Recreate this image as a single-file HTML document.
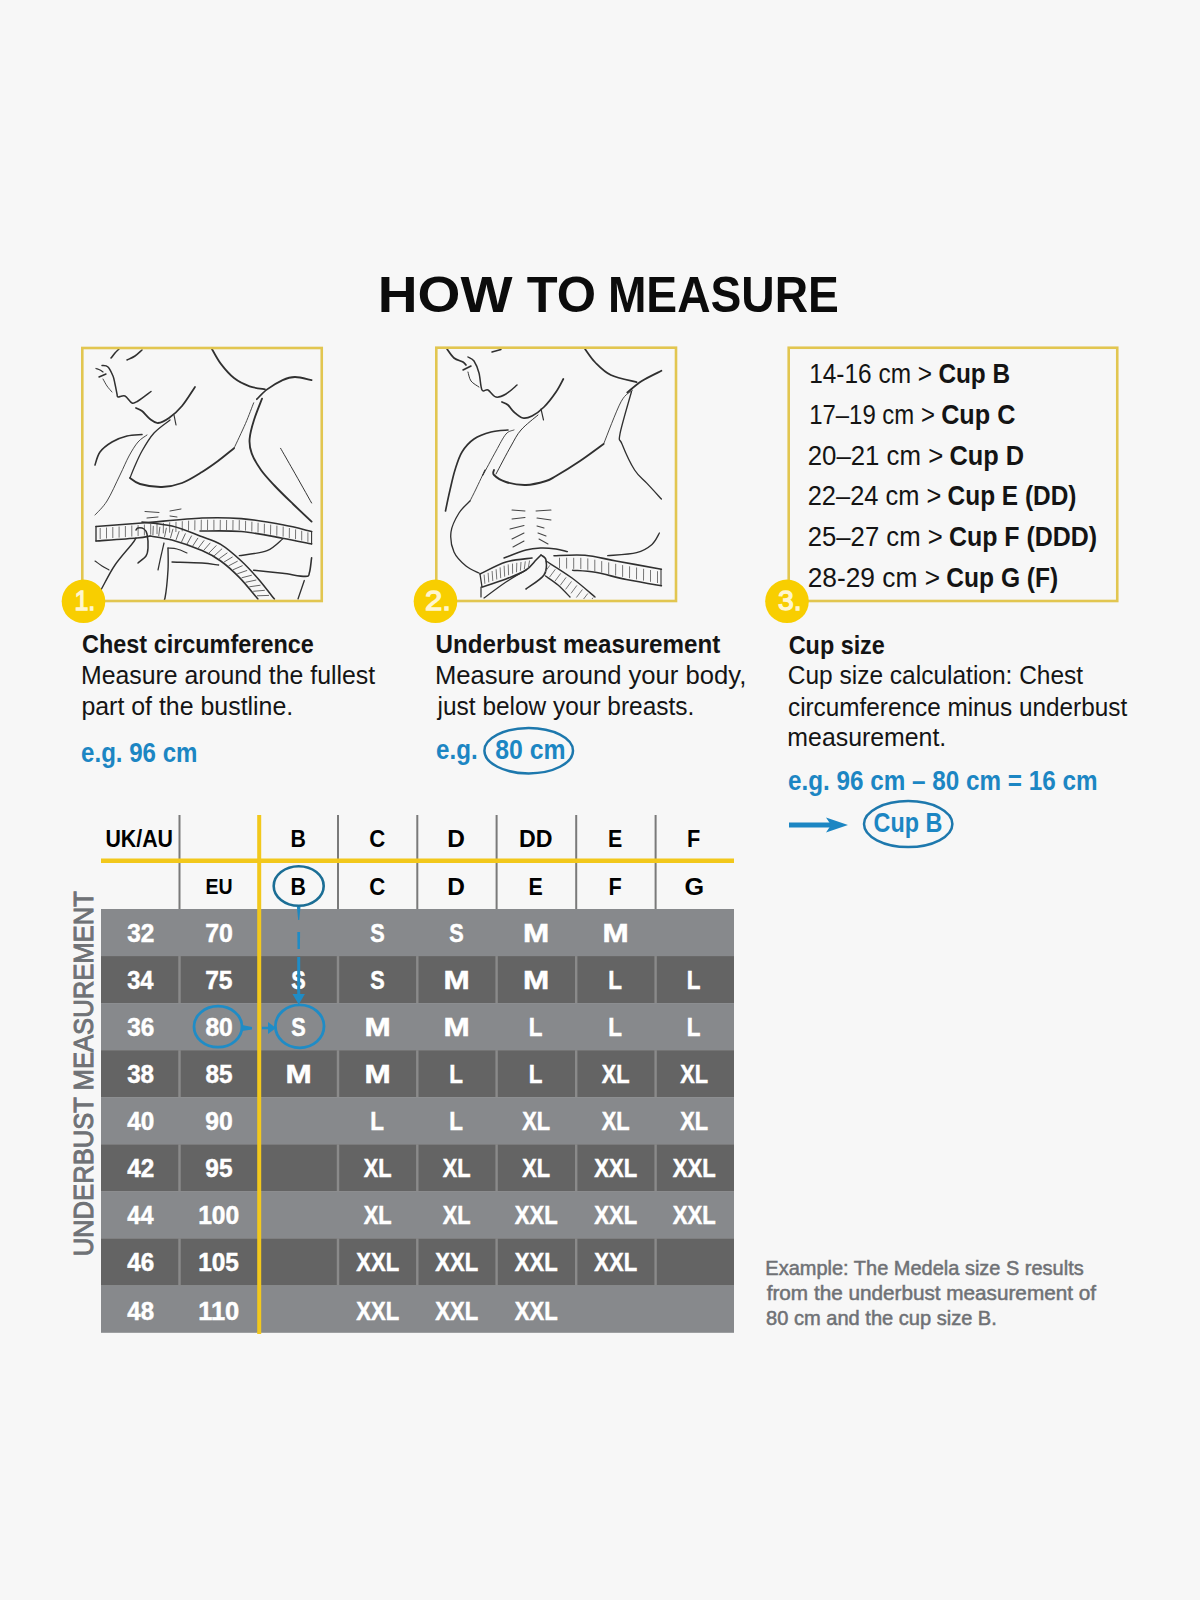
<!DOCTYPE html>
<html><head><meta charset="utf-8"><style>
html,body{margin:0;padding:0;background:#f7f7f7;}
svg{display:block;}
text{font-family:"Liberation Sans",sans-serif;}
</style></head><body>
<svg width="1200" height="1600" viewBox="0 0 1200 1600">
<rect width="1200" height="1600" fill="#f7f7f7"/>
<path d="M111.0 358.0 C111.7 357.2 113.7 354.5 115.0 353.0 C116.3 351.5 118.3 349.7 119.0 349.0" fill="none" stroke="#303030" stroke-width="1.58" stroke-linecap="round" stroke-linejoin="round"/>
<path d="M127.0 360.0 C128.3 359.3 132.5 357.7 135.0 356.0 C137.5 354.3 140.8 351.0 142.0 350.0" fill="none" stroke="#303030" stroke-width="1.58" stroke-linecap="round" stroke-linejoin="round"/>
<path d="M102.0 365.5 C103.0 365.8 106.2 365.2 108.0 367.0 C109.8 368.8 111.8 373.2 113.0 376.0 C114.2 378.8 114.3 381.0 115.0 384.0 C115.7 387.0 116.5 391.8 117.0 394.0 C117.5 396.2 116.7 396.7 118.0 397.0 C119.3 397.3 122.7 395.0 125.0 396.0 C127.3 397.0 129.8 402.2 132.0 403.0 C134.2 403.8 134.8 402.9 138.0 401.0 C141.2 399.1 148.8 393.1 151.0 391.5" fill="none" stroke="#303030" stroke-width="1.50" stroke-linecap="round" stroke-linejoin="round"/>
<path d="M96.0 368.5 C96.7 368.8 98.8 369.4 100.0 370.0 C101.2 370.6 102.5 371.7 103.0 372.0" fill="none" stroke="#303030" stroke-width="1.23" stroke-linecap="round" stroke-linejoin="round"/>
<path d="M99.0 377.0 L106.0 374.0" fill="none" stroke="#303030" stroke-width="1.41" stroke-linecap="round" stroke-linejoin="round"/>
<path d="M103.0 379.0 C103.7 380.2 105.5 383.8 107.0 386.0 C108.5 388.2 111.2 391.0 112.0 392.0" fill="none" stroke="#303030" stroke-width="0.88" stroke-linecap="round" stroke-linejoin="round"/>
<path d="M136.0 408.0 C137.0 408.5 139.7 409.2 142.0 411.0 C144.3 412.8 147.3 417.0 150.0 419.0 C152.7 421.0 154.8 423.2 158.0 423.0 C161.2 422.8 165.0 420.8 169.0 418.0 C173.0 415.2 177.7 411.2 182.0 406.0 C186.3 400.8 192.8 390.2 195.0 387.0" fill="none" stroke="#303030" stroke-width="1.76" stroke-linecap="round" stroke-linejoin="round"/>
<path d="M174.0 415.0 L176.0 425.0" fill="none" stroke="#303030" stroke-width="1.14" stroke-linecap="round" stroke-linejoin="round"/>
<path d="M170.0 420.0 C167.3 422.2 158.7 427.8 154.0 433.0 C149.3 438.2 145.3 445.2 142.0 451.0 C138.7 456.8 136.0 463.5 134.0 468.0 C132.0 472.5 130.7 476.3 130.0 478.0" fill="none" stroke="#303030" stroke-width="1.32" stroke-linecap="round" stroke-linejoin="round"/>
<path d="M147.0 435.0 C145.5 436.2 141.0 438.5 138.0 442.0 C135.0 445.5 132.0 450.5 129.0 456.0 C126.0 461.5 123.7 467.5 120.0 475.0 C116.3 482.5 111.2 494.3 107.0 501.0 C102.8 507.7 97.0 512.7 95.0 515.0" fill="none" stroke="#303030" stroke-width="0.88" stroke-linecap="round" stroke-linejoin="round"/>
<path d="M142.0 434.5 C139.5 434.8 132.0 434.8 127.0 436.0 C122.0 437.2 116.5 439.3 112.0 442.0 C107.5 444.7 102.8 448.2 100.0 452.0 C97.2 455.8 95.8 462.8 95.0 465.0" fill="none" stroke="#303030" stroke-width="1.58" stroke-linecap="round" stroke-linejoin="round"/>
<path d="M211.4 348.0 C212.9 350.6 216.9 358.6 220.7 363.6 C224.5 368.6 229.2 374.2 234.0 378.0 C238.8 381.8 244.4 384.4 249.6 386.3 C254.8 388.2 262.4 388.9 265.0 389.4" fill="none" stroke="#303030" stroke-width="1.76" stroke-linecap="round" stroke-linejoin="round"/>
<path d="M256.8 399.2 C258.5 397.6 262.8 392.6 267.1 389.4 C271.4 386.2 278.0 382.2 282.6 380.1 C287.2 378.0 290.2 377.0 295.0 377.0 C299.8 377.0 308.8 379.6 311.6 380.1" fill="none" stroke="#303030" stroke-width="1.76" stroke-linecap="round" stroke-linejoin="round"/>
<path d="M253.7 402.8 C252.3 406.2 248.8 415.9 245.5 423.5 C242.2 431.1 235.9 444.2 234.0 448.3" fill="none" stroke="#303030" stroke-width="0.88" stroke-linecap="round" stroke-linejoin="round"/>
<path d="M234.0 448.3 C231.3 450.4 223.3 457.1 218.0 461.0 C212.7 464.9 208.0 468.3 202.0 472.0 C196.0 475.7 188.7 480.5 182.0 483.0 C175.3 485.5 169.0 486.8 162.0 487.0 C155.0 487.2 145.3 485.5 140.0 484.0 C134.7 482.5 131.7 479.0 130.0 478.0" fill="none" stroke="#303030" stroke-width="1.85" stroke-linecap="round" stroke-linejoin="round"/>
<path d="M262.0 398.7 C260.7 402.2 256.1 413.3 254.0 420.0 C251.9 426.7 250.0 433.4 249.6 439.0 C249.2 444.6 249.8 448.2 251.7 453.4 C253.6 458.6 257.2 464.6 261.0 470.0 C264.8 475.4 269.1 479.8 274.4 485.5 C279.7 491.2 286.8 498.0 293.0 504.0 C299.2 510.0 308.5 518.7 311.6 521.6" fill="none" stroke="#303030" stroke-width="1.85" stroke-linecap="round" stroke-linejoin="round"/>
<path d="M280.6 448.3 C282.7 451.9 287.8 460.9 293.0 470.0 C298.2 479.1 308.5 497.5 311.6 503.0" fill="none" stroke="#303030" stroke-width="0.97" stroke-linecap="round" stroke-linejoin="round"/>
<path d="M96.0 526.5 C103.7 525.9 124.3 524.4 142.0 523.0 C159.7 521.6 185.4 518.7 202.0 518.0 C218.6 517.3 227.9 517.5 241.3 518.6 C254.7 519.7 270.9 522.6 282.6 524.8 C294.3 526.9 306.8 530.4 311.6 531.5" fill="none" stroke="#303030" stroke-width="1.58" stroke-linecap="round" stroke-linejoin="round"/>
<path d="M96.0 541.0 C102.8 540.5 128.0 538.8 137.0 538.0 C146.0 537.2 147.8 536.3 150.0 536.0" fill="none" stroke="#303030" stroke-width="1.58" stroke-linecap="round" stroke-linejoin="round"/>
<path d="M150.0 536.0 C153.7 536.7 163.3 537.6 172.0 540.0 C180.7 542.4 193.9 547.1 202.0 550.6 C210.1 554.1 214.5 556.5 220.7 561.0 C226.9 565.5 233.1 571.1 239.3 577.4 C245.5 583.7 254.8 595.4 257.9 599.0" fill="none" stroke="#303030" stroke-width="1.58" stroke-linecap="round" stroke-linejoin="round"/>
<path d="M200.0 531.0 C206.9 531.1 227.5 530.3 241.3 531.5 C255.1 532.7 270.9 536.1 282.6 538.2 C294.3 540.3 306.8 543.0 311.6 543.9" fill="none" stroke="#303030" stroke-width="1.58" stroke-linecap="round" stroke-linejoin="round"/>
<path d="M96.0 526.5 L96.0 541.0" fill="none" stroke="#303030" stroke-width="1.32" stroke-linecap="round" stroke-linejoin="round"/>
<path d="M311.6 531.5 L311.6 543.9" fill="none" stroke="#303030" stroke-width="1.06" stroke-linecap="round" stroke-linejoin="round"/>
<path d="M100.2 528.0 L100.2 539.0 M106.5 527.5 L106.5 538.5 M112.8 527.0 L112.8 538.1 M119.1 526.5 L119.1 537.6 M125.4 526.0 L125.4 537.1 M131.8 525.5 L131.8 536.6 M138.1 525.1 L138.1 536.1 M144.4 524.5 L144.4 535.4 M150.7 524.0 L150.7 534.7 M157.0 523.4 L157.0 534.1 M163.4 522.9 L163.3 533.4 M169.7 522.3 L169.6 532.7 M176.0 521.8 L175.9 532.0 M182.3 521.2 L182.2 531.3 M188.6 520.7 L188.5 530.6 M194.9 520.2 L194.8 530.3 M201.3 519.7 L201.2 530.2 M207.6 519.7 L207.5 530.2 M213.9 519.8 L213.9 530.1 M220.3 519.9 L220.2 530.1 M226.6 520.0 L226.5 530.1 M233.0 520.0 L232.9 530.0 M239.3 520.1 L239.2 530.0 M245.6 520.8 L245.5 530.6 M251.9 521.7 L251.8 531.6 M258.1 522.7 L258.0 532.6 M264.4 523.7 L264.3 533.6 M270.7 524.6 L270.5 534.7 M276.9 525.6 L276.8 535.7 M283.2 526.5 L283.1 536.7 M289.4 528.0 L289.3 538.0 M295.6 529.4 L295.5 539.2 M301.7 530.8 L301.7 540.5 M307.9 532.3 L307.9 541.8" stroke="#666" stroke-width="0.9" fill="none"/>
<path d="M142.0 522.0 C147.0 522.7 162.3 523.7 172.0 526.0 C181.7 528.3 191.9 532.9 200.0 536.0 C208.1 539.1 213.8 540.2 220.7 544.4 C227.6 548.6 235.1 555.3 241.3 561.0 C247.5 566.7 252.4 572.2 257.9 578.5 C263.4 584.8 271.6 595.6 274.4 599.0" fill="none" stroke="#303030" stroke-width="1.58" stroke-linecap="round" stroke-linejoin="round"/>
<path d="M153.3 525.9 L152.9 535.1 M159.9 526.8 L158.7 536.1 M166.4 527.8 L164.5 537.1 M173.0 528.9 L170.4 538.2 M179.2 531.1 L176.0 539.9 M185.5 533.4 L181.5 542.0 M191.7 535.6 L187.0 544.1 M198.0 537.9 L192.6 546.2 M204.2 540.3 L198.1 548.3 M210.3 542.8 L203.5 550.6 M216.4 545.4 L208.8 553.2 M222.1 548.7 L214.1 555.9 M227.4 552.8 L219.2 558.7 M232.6 556.9 L224.1 562.0 M237.7 561.1 L228.5 565.9 M242.6 565.6 L233.0 569.8 M247.2 570.4 L237.3 573.8 M251.8 575.2 L241.6 577.8 M256.3 580.0 L245.5 582.3 M260.5 585.2 L249.3 586.8 M264.8 590.3 L253.2 591.3 M269.0 595.4 L257.0 595.8" stroke="#555" stroke-width="0.9" fill="none"/>
<path d="M136.0 530.0 C136.3 529.7 136.7 528.2 138.0 528.0 C139.3 527.8 142.5 528.0 144.0 529.0 C145.5 530.0 146.3 530.8 147.0 534.0 C147.7 537.2 148.2 544.3 148.0 548.0 C147.8 551.7 147.7 553.5 146.0 556.0 C144.3 558.5 139.3 561.8 138.0 563.0" fill="none" stroke="#303030" stroke-width="1.50" stroke-linecap="round" stroke-linejoin="round"/>
<path d="M136.0 538.0 C135.3 539.0 135.5 539.5 132.0 544.0 C128.5 548.5 120.0 557.7 115.0 565.0 C110.0 572.3 104.5 583.5 102.0 588.0 C99.5 592.5 100.3 591.3 100.0 592.0" fill="none" stroke="#303030" stroke-width="1.41" stroke-linecap="round" stroke-linejoin="round"/>
<path d="M95.0 561.0 C96.2 561.8 99.7 564.5 102.0 566.0 C104.3 567.5 107.8 569.3 109.0 570.0" fill="none" stroke="#303030" stroke-width="1.14" stroke-linecap="round" stroke-linejoin="round"/>
<path d="M164.0 543.0 C163.5 545.2 162.0 551.5 161.0 556.0 C160.0 560.5 158.5 567.7 158.0 570.0" fill="none" stroke="#303030" stroke-width="1.23" stroke-linecap="round" stroke-linejoin="round"/>
<path d="M168.0 548.0 C168.0 551.7 168.5 561.7 168.0 570.0 C167.5 578.3 166.0 592.8 165.0 598.0 C164.0 603.2 162.5 600.5 162.0 601.0" fill="none" stroke="#303030" stroke-width="1.41" stroke-linecap="round" stroke-linejoin="round"/>
<path d="M168.0 548.0 C169.5 548.2 173.8 548.2 177.0 549.0 C180.2 549.8 185.3 552.3 187.0 553.0" fill="none" stroke="#303030" stroke-width="1.06" stroke-linecap="round" stroke-linejoin="round"/>
<path d="M172.0 562.0 C177.0 562.2 194.2 562.5 202.0 563.0 C209.8 563.5 215.8 564.7 218.6 565.0" fill="none" stroke="#303030" stroke-width="1.32" stroke-linecap="round" stroke-linejoin="round"/>
<path d="M145.0 511.5 L159.0 512.5" fill="none" stroke="#303030" stroke-width="0.88" stroke-linecap="round" stroke-linejoin="round"/>
<path d="M147.0 518.0 L158.0 517.0" fill="none" stroke="#303030" stroke-width="0.88" stroke-linecap="round" stroke-linejoin="round"/>
<path d="M170.0 511.0 L181.0 509.0" fill="none" stroke="#303030" stroke-width="0.88" stroke-linecap="round" stroke-linejoin="round"/>
<path d="M170.0 516.0 L177.0 517.0" fill="none" stroke="#303030" stroke-width="0.88" stroke-linecap="round" stroke-linejoin="round"/>
<path d="M282.6 539.0 C280.0 540.9 274.3 547.8 267.1 550.6 C259.9 553.4 243.9 554.9 239.3 555.7" fill="none" stroke="#303030" stroke-width="1.32" stroke-linecap="round" stroke-linejoin="round"/>
<path d="M253.7 570.2 C258.5 570.7 274.0 572.3 282.6 573.3 C291.2 574.3 300.9 576.6 305.4 576.4 C309.9 576.2 308.5 575.4 309.5 572.3 C310.5 569.2 311.2 560.2 311.6 557.8" fill="none" stroke="#303030" stroke-width="1.58" stroke-linecap="round" stroke-linejoin="round"/>
<path d="M304.3 580.5 L298.0 599.0" fill="none" stroke="#303030" stroke-width="1.32" stroke-linecap="round" stroke-linejoin="round"/>
<path d="M447.0 349.0 C448.2 350.5 451.3 355.8 454.0 358.0 C456.7 360.2 461.0 360.8 463.0 362.0 C465.0 363.2 465.5 364.5 466.0 365.0" fill="none" stroke="#303030" stroke-width="1.76" stroke-linecap="round" stroke-linejoin="round"/>
<path d="M463.0 370.0 L471.0 366.0" fill="none" stroke="#303030" stroke-width="1.58" stroke-linecap="round" stroke-linejoin="round"/>
<path d="M468.0 357.0 C469.0 357.7 472.2 358.3 474.0 361.0 C475.8 363.7 477.7 368.2 479.0 373.0 C480.3 377.8 480.5 387.2 482.0 390.0 C483.5 392.8 485.7 388.8 488.0 390.0 C490.3 391.2 493.0 396.3 496.0 397.0 C499.0 397.7 502.5 396.0 506.0 394.0 C509.5 392.0 515.2 386.5 517.0 385.0" fill="none" stroke="#303030" stroke-width="1.50" stroke-linecap="round" stroke-linejoin="round"/>
<path d="M468.0 372.0 C468.5 373.5 469.2 378.5 471.0 381.0 C472.8 383.5 477.7 386.0 479.0 387.0" fill="none" stroke="#303030" stroke-width="0.97" stroke-linecap="round" stroke-linejoin="round"/>
<path d="M492.0 352.0 L501.0 349.5" fill="none" stroke="#303030" stroke-width="1.41" stroke-linecap="round" stroke-linejoin="round"/>
<path d="M502.0 402.0 C503.0 402.5 506.0 403.3 508.0 405.0 C510.0 406.7 511.5 409.8 514.0 412.0 C516.5 414.2 520.0 417.3 523.0 418.0 C526.0 418.7 528.5 417.8 532.0 416.0 C535.5 414.2 540.0 411.0 544.0 407.0 C548.0 403.0 552.8 396.7 556.0 392.0 C559.2 387.3 562.1 381.2 563.3 379.0" fill="none" stroke="#303030" stroke-width="1.76" stroke-linecap="round" stroke-linejoin="round"/>
<path d="M541.0 409.0 L543.5 420.0" fill="none" stroke="#303030" stroke-width="1.14" stroke-linecap="round" stroke-linejoin="round"/>
<path d="M538.0 415.0 C535.2 417.5 525.5 424.8 521.0 430.0 C516.5 435.2 515.2 438.7 511.0 446.0 C506.8 453.3 498.5 469.3 496.0 474.0" fill="none" stroke="#303030" stroke-width="0.97" stroke-linecap="round" stroke-linejoin="round"/>
<path d="M514.0 430.0 C512.7 430.7 509.0 430.5 506.0 434.0 C503.0 437.5 499.8 444.2 496.0 451.0 C492.2 457.8 484.8 471.8 483.0 475.0 C481.2 478.2 484.7 470.8 485.0 470.0" fill="none" stroke="#303030" stroke-width="0.88" stroke-linecap="round" stroke-linejoin="round"/>
<path d="M508.0 430.0 C505.2 430.3 496.7 430.5 491.0 432.0 C485.3 433.5 478.8 435.7 474.0 439.0 C469.2 442.3 465.2 446.8 462.0 452.0 C458.8 457.2 457.0 463.7 455.0 470.0 C453.0 476.3 451.6 483.2 450.0 490.0 C448.4 496.8 446.2 507.5 445.5 511.0" fill="none" stroke="#303030" stroke-width="1.67" stroke-linecap="round" stroke-linejoin="round"/>
<path d="M585.0 349.0 C586.7 351.2 591.0 358.2 595.3 362.5 C599.6 366.8 603.9 371.7 610.8 375.0 C617.7 378.3 632.3 381.0 636.6 382.2" fill="none" stroke="#303030" stroke-width="1.76" stroke-linecap="round" stroke-linejoin="round"/>
<path d="M627.3 392.5 C629.7 390.6 636.1 384.6 641.8 381.0 C647.5 377.4 658.1 372.5 661.4 370.8" fill="none" stroke="#303030" stroke-width="1.85" stroke-linecap="round" stroke-linejoin="round"/>
<path d="M632.5 390.4 C630.6 392.3 625.8 392.9 621.0 401.8 C616.2 410.7 606.5 437.0 603.6 444.0" fill="none" stroke="#303030" stroke-width="0.88" stroke-linecap="round" stroke-linejoin="round"/>
<path d="M603.6 444.0 C599.7 446.8 587.9 455.7 580.0 461.0 C572.1 466.3 561.7 472.7 556.0 476.0 C550.3 479.3 551.0 479.5 546.0 481.0 C541.0 482.5 532.7 484.8 526.0 485.0 C519.3 485.2 511.3 483.7 506.0 482.0 C500.7 480.3 496.0 477.0 494.0 475.0 C492.0 473.0 494.0 470.8 494.0 470.0" fill="none" stroke="#303030" stroke-width="1.85" stroke-linecap="round" stroke-linejoin="round"/>
<path d="M631.5 391.5 C629.6 398.6 621.6 425.1 620.0 433.8 C618.4 442.6 619.6 438.0 622.0 444.0 C624.4 450.0 630.4 463.4 634.6 470.0 C638.8 476.6 642.5 478.6 647.0 483.4 C651.5 488.2 659.0 496.4 661.4 499.0" fill="none" stroke="#303030" stroke-width="1.32" stroke-linecap="round" stroke-linejoin="round"/>
<path d="M485.0 470.0 C483.5 473.2 478.5 483.8 476.0 489.0 C473.5 494.2 471.0 499.0 470.0 501.0" fill="none" stroke="#303030" stroke-width="0.88" stroke-linecap="round" stroke-linejoin="round"/>
<path d="M470.0 501.0 C468.2 503.0 462.2 507.8 459.0 513.0 C455.8 518.2 451.8 525.5 451.0 532.0 C450.2 538.5 451.5 546.3 454.0 552.0 C456.5 557.7 461.8 562.5 466.0 566.0 C470.2 569.5 476.8 571.8 479.0 573.0" fill="none" stroke="#303030" stroke-width="1.32" stroke-linecap="round" stroke-linejoin="round"/>
<path d="M512.0 510.0 L525.0 511.0" fill="none" stroke="#444" stroke-width="1.06" stroke-linecap="round" stroke-linejoin="round"/>
<path d="M512.0 519.0 L525.0 517.5" fill="none" stroke="#444" stroke-width="1.06" stroke-linecap="round" stroke-linejoin="round"/>
<path d="M510.0 529.0 L524.0 525.5" fill="none" stroke="#444" stroke-width="1.06" stroke-linecap="round" stroke-linejoin="round"/>
<path d="M512.0 539.0 L524.0 533.0" fill="none" stroke="#444" stroke-width="1.06" stroke-linecap="round" stroke-linejoin="round"/>
<path d="M513.0 547.0 L524.0 541.0" fill="none" stroke="#444" stroke-width="1.06" stroke-linecap="round" stroke-linejoin="round"/>
<path d="M536.0 511.0 L551.0 510.0" fill="none" stroke="#444" stroke-width="1.06" stroke-linecap="round" stroke-linejoin="round"/>
<path d="M537.0 518.0 L551.0 520.0" fill="none" stroke="#444" stroke-width="1.06" stroke-linecap="round" stroke-linejoin="round"/>
<path d="M537.0 526.0 L544.0 528.0" fill="none" stroke="#444" stroke-width="1.06" stroke-linecap="round" stroke-linejoin="round"/>
<path d="M538.0 533.0 L546.0 536.0" fill="none" stroke="#444" stroke-width="1.06" stroke-linecap="round" stroke-linejoin="round"/>
<path d="M539.0 539.0 L548.0 544.0" fill="none" stroke="#444" stroke-width="1.06" stroke-linecap="round" stroke-linejoin="round"/>
<path d="M504.0 558.0 C507.7 556.7 519.8 551.7 526.0 550.0 C532.2 548.3 536.0 548.2 541.0 548.0 C546.0 547.8 551.6 548.4 556.0 549.0 C560.4 549.6 565.5 551.2 567.4 551.6" fill="none" stroke="#303030" stroke-width="1.41" stroke-linecap="round" stroke-linejoin="round"/>
<path d="M480.0 574.0 C484.3 572.0 497.3 564.7 506.0 562.0 C514.7 559.3 527.7 558.7 532.0 558.0" fill="none" stroke="#303030" stroke-width="1.58" stroke-linecap="round" stroke-linejoin="round"/>
<path d="M482.0 587.0 C486.0 585.7 498.7 581.8 506.0 579.0 C513.3 576.2 521.0 573.2 526.0 570.0 C531.0 566.8 533.5 562.5 536.0 560.0 C538.5 557.5 540.2 555.8 541.0 555.0" fill="none" stroke="#303030" stroke-width="1.58" stroke-linecap="round" stroke-linejoin="round"/>
<path d="M480.0 574.0 L482.0 587.0" fill="none" stroke="#303030" stroke-width="1.32" stroke-linecap="round" stroke-linejoin="round"/>
<path d="M484.1 574.6 L484.9 583.8 M488.1 572.8 L488.8 582.4 M492.1 571.0 L492.8 581.0 M496.1 569.2 L496.8 579.5 M500.1 567.4 L500.7 578.1 M504.1 565.7 L504.7 576.7 M508.2 564.4 L508.6 575.2 M512.5 563.6 L512.6 573.7 M516.8 562.8 L516.5 572.2 M521.0 562.0 L520.4 570.7 M525.3 561.3 L524.3 569.2 M529.6 560.5 L528.3 567.7" stroke="#666" stroke-width="0.9" fill="none"/>
<path d="M541.0 555.0 C541.8 555.8 545.5 556.7 546.0 560.0 C546.5 563.3 547.3 570.2 544.0 575.0 C540.7 579.8 529.0 586.7 526.0 589.0" fill="none" stroke="#303030" stroke-width="1.58" stroke-linecap="round" stroke-linejoin="round"/>
<path d="M481.0 587.0 L481.0 597.0" fill="none" stroke="#303030" stroke-width="1.23" stroke-linecap="round" stroke-linejoin="round"/>
<path d="M484.0 598.0 C487.7 595.3 499.0 586.7 506.0 582.0 C513.0 577.3 522.7 572.0 526.0 570.0" fill="none" stroke="#303030" stroke-width="1.23" stroke-linecap="round" stroke-linejoin="round"/>
<path d="M554.0 555.7 C559.2 555.6 574.7 554.3 585.0 555.2 C595.3 556.1 603.3 558.7 616.0 561.0 C628.7 563.3 653.8 567.8 661.4 569.2" fill="none" stroke="#303030" stroke-width="1.58" stroke-linecap="round" stroke-linejoin="round"/>
<path d="M572.6 570.2 C576.4 570.6 586.3 570.8 595.3 572.3 C604.2 573.8 615.3 577.3 626.3 579.5 C637.3 581.7 655.5 584.7 661.4 585.7" fill="none" stroke="#303030" stroke-width="1.58" stroke-linecap="round" stroke-linejoin="round"/>
<path d="M661.0 569.2 L661.0 585.7" fill="none" stroke="#303030" stroke-width="1.06" stroke-linecap="round" stroke-linejoin="round"/>
<path d="M559.5 557.7 L559.5 568.4 M566.6 557.7 L566.6 568.6 M573.7 557.8 L573.7 568.9 M580.8 557.8 L580.8 569.1 M587.8 558.4 L587.8 569.8 M594.8 559.7 L594.8 571.2 M601.7 561.1 L601.7 572.6 M608.7 562.4 L608.7 574.1 M615.7 563.8 L615.6 575.5 M622.6 565.1 L622.6 576.9 M629.6 566.3 L629.5 578.2 M636.6 567.5 L636.5 579.4 M643.6 568.8 L643.5 580.6 M650.5 570.0 L650.5 581.8 M657.5 571.2 L657.5 583.0" stroke="#666" stroke-width="0.9" fill="none"/>
<path d="M659.4 533.0 C658.2 534.9 655.8 541.1 652.0 544.4 C648.2 547.7 644.0 550.7 636.6 552.6 C629.2 554.5 612.5 555.2 607.7 555.7" fill="none" stroke="#303030" stroke-width="1.32" stroke-linecap="round" stroke-linejoin="round"/>
<path d="M546.0 561.0 C550.3 563.8 563.8 572.0 572.0 578.0 C580.2 584.0 591.2 593.8 595.0 597.0" fill="none" stroke="#303030" stroke-width="1.41" stroke-linecap="round" stroke-linejoin="round"/>
<path d="M545.5 576.0 C547.6 577.5 553.9 581.5 558.0 585.0 C562.1 588.5 568.0 595.0 570.0 597.0" fill="none" stroke="#303030" stroke-width="1.41" stroke-linecap="round" stroke-linejoin="round"/>
<path d="M549.9 565.3 L544.0 573.3 M555.3 569.3 L549.4 577.3 M560.7 573.4 L554.8 581.4 M566.1 577.4 L560.2 585.4 M571.5 581.4 L565.6 589.4 M576.9 585.4 L571.0 593.4 M582.4 589.5 L576.4 597.5 M587.8 593.5 L583.6 599.0 M593.2 597.5 L592.0 599.0" stroke="#666" stroke-width="0.9" fill="none"/>

<rect x="82.3" y="348" width="239.45" height="253" fill="none" stroke="#e2c650" stroke-width="2.6"/>
<rect x="436.3" y="347.7" width="239.7" height="253.3" fill="none" stroke="#e2c650" stroke-width="2.6"/>
<rect x="788.7" y="347.75" width="328.55" height="253.25" fill="none" stroke="#e2c650" stroke-width="2.6"/>

<circle cx="83.5" cy="601.3" r="21.8" fill="#f8ce00"/><circle cx="435.5" cy="601.3" r="21.8" fill="#f8ce00"/><circle cx="787" cy="601.3" r="21.8" fill="#f8ce00"/>
<text x="74.39" y="610.30" font-size="28.49" font-weight="400" fill="#fff6d0" textLength="20.90" lengthAdjust="spacingAndGlyphs" stroke="#fff6d0" stroke-width="1.3">1.</text>
<text x="424.94" y="610.30" font-size="28.49" font-weight="400" fill="#fff6d0" textLength="25.90" lengthAdjust="spacingAndGlyphs" stroke="#fff6d0" stroke-width="1.3">2.</text>
<text x="777.92" y="610.30" font-size="28.49" font-weight="400" fill="#fff6d0" textLength="23.67" lengthAdjust="spacingAndGlyphs" stroke="#fff6d0" stroke-width="1.3">3.</text>
<text x="377.81" y="312.00" font-size="50.87" font-weight="700" fill="#0c0c0c" textLength="134.74" lengthAdjust="spacingAndGlyphs">HOW</text>
<text x="526.84" y="312.00" font-size="50.87" font-weight="700" fill="#0c0c0c" textLength="69.25" lengthAdjust="spacingAndGlyphs">TO</text>
<text x="607.91" y="312.00" font-size="50.87" font-weight="700" fill="#0c0c0c" textLength="230.89" lengthAdjust="spacingAndGlyphs">MEASURE</text>
<text x="82.04" y="653.00" font-size="25.15" font-weight="700" fill="#141414" textLength="231.76" lengthAdjust="spacingAndGlyphs">Chest circumference</text>
<text x="80.96" y="684.00" font-size="25.29" font-weight="400" fill="#141414" textLength="294.22" lengthAdjust="spacingAndGlyphs">Measure around the fullest</text>
<text x="81.39" y="714.50" font-size="25.29" font-weight="400" fill="#141414" textLength="211.88" lengthAdjust="spacingAndGlyphs">part of the bustline.</text>
<text x="81.06" y="761.50" font-size="27.18" font-weight="700" fill="#1c86c3" textLength="116.43" lengthAdjust="spacingAndGlyphs">e.g. 96 cm</text>
<text x="435.55" y="653.00" font-size="25.15" font-weight="700" fill="#141414" textLength="284.75" lengthAdjust="spacingAndGlyphs">Underbust measurement</text>
<text x="434.91" y="684.00" font-size="25.29" font-weight="400" fill="#141414" textLength="311.38" lengthAdjust="spacingAndGlyphs">Measure around your body,</text>
<text x="437.60" y="714.50" font-size="25.29" font-weight="400" fill="#141414" textLength="256.63" lengthAdjust="spacingAndGlyphs">just below your breasts.</text>
<text x="436.06" y="759.00" font-size="27.18" font-weight="700" fill="#1c86c3" textLength="41.61" lengthAdjust="spacingAndGlyphs">e.g.</text>
<text x="495.21" y="759.00" font-size="27.18" font-weight="700" fill="#1c86c3" textLength="70.33" lengthAdjust="spacingAndGlyphs">80 cm</text>
<text x="788.74" y="653.50" font-size="25.15" font-weight="700" fill="#141414" textLength="96.06" lengthAdjust="spacingAndGlyphs">Cup size</text>
<text x="787.76" y="684.20" font-size="25.29" font-weight="400" fill="#141414" textLength="295.42" lengthAdjust="spacingAndGlyphs">Cup size calculation: Chest</text>
<text x="787.97" y="715.70" font-size="25.29" font-weight="400" fill="#141414" textLength="339.21" lengthAdjust="spacingAndGlyphs">circumference minus underbust</text>
<text x="787.35" y="746.40" font-size="25.29" font-weight="400" fill="#141414" textLength="158.92" lengthAdjust="spacingAndGlyphs">measurement.</text>
<text x="788.05" y="790.00" font-size="27.18" font-weight="700" fill="#1c86c3" textLength="309.45" lengthAdjust="spacingAndGlyphs">e.g. 96 cm – 80 cm = 16 cm</text>
<text x="873.54" y="832.00" font-size="27.33" font-weight="700" fill="#1c86c3" textLength="68.72" lengthAdjust="spacingAndGlyphs">Cup B</text>
<text x="809.14" y="383.40" font-size="27.91" font-weight="400" fill="#141414" textLength="122.96" lengthAdjust="spacingAndGlyphs">14-16 cm &gt;</text>
<text x="938.40" y="383.40" font-size="27.91" font-weight="700" fill="#141414" textLength="71.71" lengthAdjust="spacingAndGlyphs">Cup B</text>
<text x="809.18" y="424.10" font-size="27.91" font-weight="400" fill="#141414" textLength="125.69" lengthAdjust="spacingAndGlyphs">17–19 cm &gt;</text>
<text x="941.17" y="424.10" font-size="27.91" font-weight="700" fill="#141414" textLength="74.22" lengthAdjust="spacingAndGlyphs">Cup C</text>
<text x="807.70" y="464.80" font-size="27.91" font-weight="400" fill="#141414" textLength="135.56" lengthAdjust="spacingAndGlyphs">20–21 cm &gt;</text>
<text x="949.46" y="464.80" font-size="27.91" font-weight="700" fill="#141414" textLength="74.60" lengthAdjust="spacingAndGlyphs">Cup D</text>
<text x="807.72" y="504.70" font-size="27.91" font-weight="400" fill="#141414" textLength="133.62" lengthAdjust="spacingAndGlyphs">22–24 cm &gt;</text>
<text x="947.60" y="504.70" font-size="27.91" font-weight="700" fill="#141414" textLength="128.82" lengthAdjust="spacingAndGlyphs">Cup E (DD)</text>
<text x="807.71" y="546.00" font-size="27.91" font-weight="400" fill="#141414" textLength="135.05" lengthAdjust="spacingAndGlyphs">25–27 cm &gt;</text>
<text x="948.98" y="546.00" font-size="27.91" font-weight="700" fill="#141414" textLength="148.16" lengthAdjust="spacingAndGlyphs">Cup F (DDD)</text>
<text x="807.68" y="586.50" font-size="27.91" font-weight="400" fill="#141414" textLength="132.41" lengthAdjust="spacingAndGlyphs">28-29 cm &gt;</text>
<text x="946.29" y="586.50" font-size="27.91" font-weight="700" fill="#141414" textLength="111.93" lengthAdjust="spacingAndGlyphs">Cup G (F)</text>
<text x="765.36" y="1274.70" font-size="19.62" font-weight="400" fill="#6f7175" textLength="318.36" lengthAdjust="spacingAndGlyphs" stroke="#6f7175" stroke-width="0.5">Example: The Medela size S results</text>
<text x="766.71" y="1300.20" font-size="19.62" font-weight="400" fill="#6f7175" textLength="329.26" lengthAdjust="spacingAndGlyphs" stroke="#6f7175" stroke-width="0.5">from the underbust measurement of</text>
<text x="766.13" y="1325.00" font-size="19.62" font-weight="400" fill="#6f7175" textLength="230.70" lengthAdjust="spacingAndGlyphs" stroke="#6f7175" stroke-width="0.5">80 cm and the cup size B.</text>
<rect x="101" y="909.00" width="633" height="47.36" fill="#87898c"/>
<rect x="101" y="956.06" width="633" height="47.36" fill="#646464"/>
<rect x="178.30" y="956.06" width="2.4" height="47.06" fill="#8a8a8a"/>
<rect x="336.80" y="956.06" width="2.4" height="47.06" fill="#8a8a8a"/>
<rect x="416.10" y="956.06" width="2.4" height="47.06" fill="#8a8a8a"/>
<rect x="495.40" y="956.06" width="2.4" height="47.06" fill="#8a8a8a"/>
<rect x="575.00" y="956.06" width="2.4" height="47.06" fill="#8a8a8a"/>
<rect x="654.40" y="956.06" width="2.4" height="47.06" fill="#8a8a8a"/>
<rect x="101" y="1003.11" width="633" height="47.36" fill="#87898c"/>
<rect x="101" y="1050.17" width="633" height="47.36" fill="#646464"/>
<rect x="178.30" y="1050.17" width="2.4" height="47.06" fill="#8a8a8a"/>
<rect x="336.80" y="1050.17" width="2.4" height="47.06" fill="#8a8a8a"/>
<rect x="416.10" y="1050.17" width="2.4" height="47.06" fill="#8a8a8a"/>
<rect x="495.40" y="1050.17" width="2.4" height="47.06" fill="#8a8a8a"/>
<rect x="575.00" y="1050.17" width="2.4" height="47.06" fill="#8a8a8a"/>
<rect x="654.40" y="1050.17" width="2.4" height="47.06" fill="#8a8a8a"/>
<rect x="101" y="1097.22" width="633" height="47.36" fill="#87898c"/>
<rect x="101" y="1144.28" width="633" height="47.36" fill="#646464"/>
<rect x="178.30" y="1144.28" width="2.4" height="47.06" fill="#8a8a8a"/>
<rect x="336.80" y="1144.28" width="2.4" height="47.06" fill="#8a8a8a"/>
<rect x="416.10" y="1144.28" width="2.4" height="47.06" fill="#8a8a8a"/>
<rect x="495.40" y="1144.28" width="2.4" height="47.06" fill="#8a8a8a"/>
<rect x="575.00" y="1144.28" width="2.4" height="47.06" fill="#8a8a8a"/>
<rect x="654.40" y="1144.28" width="2.4" height="47.06" fill="#8a8a8a"/>
<rect x="101" y="1191.33" width="633" height="47.36" fill="#87898c"/>
<rect x="101" y="1238.39" width="633" height="47.36" fill="#646464"/>
<rect x="178.30" y="1238.39" width="2.4" height="47.06" fill="#8a8a8a"/>
<rect x="336.80" y="1238.39" width="2.4" height="47.06" fill="#8a8a8a"/>
<rect x="416.10" y="1238.39" width="2.4" height="47.06" fill="#8a8a8a"/>
<rect x="495.40" y="1238.39" width="2.4" height="47.06" fill="#8a8a8a"/>
<rect x="575.00" y="1238.39" width="2.4" height="47.06" fill="#8a8a8a"/>
<rect x="654.40" y="1238.39" width="2.4" height="47.06" fill="#8a8a8a"/>
<rect x="101" y="1285.44" width="633" height="47.36" fill="#87898c"/>
<rect x="178.50" y="815" width="2" height="94" fill="#7a7a7a"/>
<rect x="337.00" y="815" width="2" height="94" fill="#7a7a7a"/>
<rect x="416.30" y="815" width="2" height="94" fill="#7a7a7a"/>
<rect x="495.60" y="815" width="2" height="94" fill="#7a7a7a"/>
<rect x="575.20" y="815" width="2" height="94" fill="#7a7a7a"/>
<rect x="654.60" y="815" width="2" height="94" fill="#7a7a7a"/>
<rect x="101" y="858.5" width="633" height="4.5" fill="#f2c81c"/>
<rect x="257.2" y="815" width="4" height="519" fill="#f2c81c"/>
<text x="105.42" y="846.70" font-size="23.26" font-weight="700" fill="#000" textLength="67.58" lengthAdjust="spacingAndGlyphs">UK/AU</text>
<text x="205.40" y="894.20" font-size="22.53" font-weight="700" fill="#000" textLength="27.10" lengthAdjust="spacingAndGlyphs">EU</text>
<text x="290.57" y="846.90" font-size="23.26" font-weight="700" fill="#000" textLength="15.39" lengthAdjust="spacingAndGlyphs">B</text>
<text x="369.34" y="846.90" font-size="23.26" font-weight="700" fill="#000" textLength="16.02" lengthAdjust="spacingAndGlyphs">C</text>
<text x="447.36" y="846.90" font-size="23.26" font-weight="700" fill="#000" textLength="17.66" lengthAdjust="spacingAndGlyphs">D</text>
<text x="518.95" y="846.90" font-size="23.26" font-weight="700" fill="#000" textLength="33.53" lengthAdjust="spacingAndGlyphs">DD</text>
<text x="608.07" y="846.90" font-size="23.26" font-weight="700" fill="#000" textLength="14.27" lengthAdjust="spacingAndGlyphs">E</text>
<text x="687.05" y="846.90" font-size="23.26" font-weight="700" fill="#000" textLength="13.24" lengthAdjust="spacingAndGlyphs">F</text>
<text x="290.57" y="894.50" font-size="23.26" font-weight="700" fill="#000" textLength="15.39" lengthAdjust="spacingAndGlyphs">B</text>
<text x="369.34" y="894.50" font-size="23.26" font-weight="700" fill="#000" textLength="16.02" lengthAdjust="spacingAndGlyphs">C</text>
<text x="447.36" y="894.50" font-size="23.26" font-weight="700" fill="#000" textLength="17.66" lengthAdjust="spacingAndGlyphs">D</text>
<text x="528.57" y="894.50" font-size="23.26" font-weight="700" fill="#000" textLength="14.27" lengthAdjust="spacingAndGlyphs">E</text>
<text x="608.55" y="894.50" font-size="23.26" font-weight="700" fill="#000" textLength="13.24" lengthAdjust="spacingAndGlyphs">F</text>
<text x="684.47" y="894.50" font-size="23.26" font-weight="700" fill="#000" textLength="19.60" lengthAdjust="spacingAndGlyphs">G</text>
<text x="127.14" y="942.03" font-size="26.16" font-weight="700" fill="#fff" textLength="27.14" lengthAdjust="spacingAndGlyphs" stroke="#fff" stroke-width="0.5">32</text>
<text x="205.13" y="942.03" font-size="26.16" font-weight="700" fill="#fff" textLength="27.69" lengthAdjust="spacingAndGlyphs" stroke="#fff" stroke-width="0.5">70</text>
<text x="370.37" y="942.03" font-size="26.16" font-weight="700" fill="#fff" textLength="14.47" lengthAdjust="spacingAndGlyphs" stroke="#fff" stroke-width="0.5">S</text>
<text x="449.37" y="942.03" font-size="26.16" font-weight="700" fill="#fff" textLength="14.47" lengthAdjust="spacingAndGlyphs" stroke="#fff" stroke-width="0.5">S</text>
<text x="522.90" y="942.03" font-size="26.16" font-weight="700" fill="#fff" textLength="26.21" lengthAdjust="spacingAndGlyphs" stroke="#fff" stroke-width="0.5">M</text>
<text x="602.40" y="942.03" font-size="26.16" font-weight="700" fill="#fff" textLength="26.21" lengthAdjust="spacingAndGlyphs" stroke="#fff" stroke-width="0.5">M</text>
<text x="127.16" y="989.08" font-size="26.16" font-weight="700" fill="#fff" textLength="26.27" lengthAdjust="spacingAndGlyphs" stroke="#fff" stroke-width="0.5">34</text>
<text x="205.14" y="989.08" font-size="26.16" font-weight="700" fill="#fff" textLength="27.34" lengthAdjust="spacingAndGlyphs" stroke="#fff" stroke-width="0.5">75</text>
<text x="291.37" y="989.08" font-size="26.16" font-weight="700" fill="#fff" textLength="14.47" lengthAdjust="spacingAndGlyphs" stroke="#fff" stroke-width="0.5">S</text>
<text x="370.37" y="989.08" font-size="26.16" font-weight="700" fill="#fff" textLength="14.47" lengthAdjust="spacingAndGlyphs" stroke="#fff" stroke-width="0.5">S</text>
<text x="443.40" y="989.08" font-size="26.16" font-weight="700" fill="#fff" textLength="26.21" lengthAdjust="spacingAndGlyphs" stroke="#fff" stroke-width="0.5">M</text>
<text x="522.90" y="989.08" font-size="26.16" font-weight="700" fill="#fff" textLength="26.21" lengthAdjust="spacingAndGlyphs" stroke="#fff" stroke-width="0.5">M</text>
<text x="608.25" y="989.08" font-size="26.16" font-weight="700" fill="#fff" textLength="13.69" lengthAdjust="spacingAndGlyphs" stroke="#fff" stroke-width="0.5">L</text>
<text x="686.75" y="989.08" font-size="26.16" font-weight="700" fill="#fff" textLength="13.69" lengthAdjust="spacingAndGlyphs" stroke="#fff" stroke-width="0.5">L</text>
<text x="127.14" y="1036.14" font-size="26.16" font-weight="700" fill="#fff" textLength="27.04" lengthAdjust="spacingAndGlyphs" stroke="#fff" stroke-width="0.5">36</text>
<text x="205.42" y="1036.14" font-size="26.16" font-weight="700" fill="#fff" textLength="27.39" lengthAdjust="spacingAndGlyphs" stroke="#fff" stroke-width="0.5">80</text>
<text x="291.37" y="1036.14" font-size="26.16" font-weight="700" fill="#fff" textLength="14.47" lengthAdjust="spacingAndGlyphs" stroke="#fff" stroke-width="0.5">S</text>
<text x="364.40" y="1036.14" font-size="26.16" font-weight="700" fill="#fff" textLength="26.21" lengthAdjust="spacingAndGlyphs" stroke="#fff" stroke-width="0.5">M</text>
<text x="443.40" y="1036.14" font-size="26.16" font-weight="700" fill="#fff" textLength="26.21" lengthAdjust="spacingAndGlyphs" stroke="#fff" stroke-width="0.5">M</text>
<text x="528.75" y="1036.14" font-size="26.16" font-weight="700" fill="#fff" textLength="13.69" lengthAdjust="spacingAndGlyphs" stroke="#fff" stroke-width="0.5">L</text>
<text x="608.25" y="1036.14" font-size="26.16" font-weight="700" fill="#fff" textLength="13.69" lengthAdjust="spacingAndGlyphs" stroke="#fff" stroke-width="0.5">L</text>
<text x="686.75" y="1036.14" font-size="26.16" font-weight="700" fill="#fff" textLength="13.69" lengthAdjust="spacingAndGlyphs" stroke="#fff" stroke-width="0.5">L</text>
<text x="127.15" y="1083.19" font-size="26.16" font-weight="700" fill="#fff" textLength="26.90" lengthAdjust="spacingAndGlyphs" stroke="#fff" stroke-width="0.5">38</text>
<text x="205.43" y="1083.19" font-size="26.16" font-weight="700" fill="#fff" textLength="27.05" lengthAdjust="spacingAndGlyphs" stroke="#fff" stroke-width="0.5">85</text>
<text x="285.40" y="1083.19" font-size="26.16" font-weight="700" fill="#fff" textLength="26.21" lengthAdjust="spacingAndGlyphs" stroke="#fff" stroke-width="0.5">M</text>
<text x="364.40" y="1083.19" font-size="26.16" font-weight="700" fill="#fff" textLength="26.21" lengthAdjust="spacingAndGlyphs" stroke="#fff" stroke-width="0.5">M</text>
<text x="449.25" y="1083.19" font-size="26.16" font-weight="700" fill="#fff" textLength="13.69" lengthAdjust="spacingAndGlyphs" stroke="#fff" stroke-width="0.5">L</text>
<text x="528.75" y="1083.19" font-size="26.16" font-weight="700" fill="#fff" textLength="13.69" lengthAdjust="spacingAndGlyphs" stroke="#fff" stroke-width="0.5">L</text>
<text x="601.81" y="1083.19" font-size="26.16" font-weight="700" fill="#fff" textLength="27.86" lengthAdjust="spacingAndGlyphs" stroke="#fff" stroke-width="0.5">XL</text>
<text x="680.31" y="1083.19" font-size="26.16" font-weight="700" fill="#fff" textLength="27.86" lengthAdjust="spacingAndGlyphs" stroke="#fff" stroke-width="0.5">XL</text>
<text x="127.33" y="1130.25" font-size="26.16" font-weight="700" fill="#fff" textLength="26.96" lengthAdjust="spacingAndGlyphs" stroke="#fff" stroke-width="0.5">40</text>
<text x="205.34" y="1130.25" font-size="26.16" font-weight="700" fill="#fff" textLength="27.47" lengthAdjust="spacingAndGlyphs" stroke="#fff" stroke-width="0.5">90</text>
<text x="370.25" y="1130.25" font-size="26.16" font-weight="700" fill="#fff" textLength="13.69" lengthAdjust="spacingAndGlyphs" stroke="#fff" stroke-width="0.5">L</text>
<text x="449.25" y="1130.25" font-size="26.16" font-weight="700" fill="#fff" textLength="13.69" lengthAdjust="spacingAndGlyphs" stroke="#fff" stroke-width="0.5">L</text>
<text x="522.31" y="1130.25" font-size="26.16" font-weight="700" fill="#fff" textLength="27.86" lengthAdjust="spacingAndGlyphs" stroke="#fff" stroke-width="0.5">XL</text>
<text x="601.81" y="1130.25" font-size="26.16" font-weight="700" fill="#fff" textLength="27.86" lengthAdjust="spacingAndGlyphs" stroke="#fff" stroke-width="0.5">XL</text>
<text x="680.31" y="1130.25" font-size="26.16" font-weight="700" fill="#fff" textLength="27.86" lengthAdjust="spacingAndGlyphs" stroke="#fff" stroke-width="0.5">XL</text>
<text x="127.33" y="1177.31" font-size="26.16" font-weight="700" fill="#fff" textLength="26.94" lengthAdjust="spacingAndGlyphs" stroke="#fff" stroke-width="0.5">42</text>
<text x="205.35" y="1177.31" font-size="26.16" font-weight="700" fill="#fff" textLength="27.12" lengthAdjust="spacingAndGlyphs" stroke="#fff" stroke-width="0.5">95</text>
<text x="363.81" y="1177.31" font-size="26.16" font-weight="700" fill="#fff" textLength="27.86" lengthAdjust="spacingAndGlyphs" stroke="#fff" stroke-width="0.5">XL</text>
<text x="442.81" y="1177.31" font-size="26.16" font-weight="700" fill="#fff" textLength="27.86" lengthAdjust="spacingAndGlyphs" stroke="#fff" stroke-width="0.5">XL</text>
<text x="522.31" y="1177.31" font-size="26.16" font-weight="700" fill="#fff" textLength="27.86" lengthAdjust="spacingAndGlyphs" stroke="#fff" stroke-width="0.5">XL</text>
<text x="594.31" y="1177.31" font-size="26.16" font-weight="700" fill="#fff" textLength="42.87" lengthAdjust="spacingAndGlyphs" stroke="#fff" stroke-width="0.5">XXL</text>
<text x="672.81" y="1177.31" font-size="26.16" font-weight="700" fill="#fff" textLength="42.87" lengthAdjust="spacingAndGlyphs" stroke="#fff" stroke-width="0.5">XXL</text>
<text x="127.35" y="1224.36" font-size="26.16" font-weight="700" fill="#fff" textLength="26.08" lengthAdjust="spacingAndGlyphs" stroke="#fff" stroke-width="0.5">44</text>
<text x="198.20" y="1224.36" font-size="26.16" font-weight="700" fill="#fff" textLength="41.06" lengthAdjust="spacingAndGlyphs" stroke="#fff" stroke-width="0.5">100</text>
<text x="363.81" y="1224.36" font-size="26.16" font-weight="700" fill="#fff" textLength="27.86" lengthAdjust="spacingAndGlyphs" stroke="#fff" stroke-width="0.5">XL</text>
<text x="442.81" y="1224.36" font-size="26.16" font-weight="700" fill="#fff" textLength="27.86" lengthAdjust="spacingAndGlyphs" stroke="#fff" stroke-width="0.5">XL</text>
<text x="514.81" y="1224.36" font-size="26.16" font-weight="700" fill="#fff" textLength="42.87" lengthAdjust="spacingAndGlyphs" stroke="#fff" stroke-width="0.5">XXL</text>
<text x="594.31" y="1224.36" font-size="26.16" font-weight="700" fill="#fff" textLength="42.87" lengthAdjust="spacingAndGlyphs" stroke="#fff" stroke-width="0.5">XXL</text>
<text x="672.81" y="1224.36" font-size="26.16" font-weight="700" fill="#fff" textLength="42.87" lengthAdjust="spacingAndGlyphs" stroke="#fff" stroke-width="0.5">XXL</text>
<text x="127.33" y="1271.42" font-size="26.16" font-weight="700" fill="#fff" textLength="26.84" lengthAdjust="spacingAndGlyphs" stroke="#fff" stroke-width="0.5">46</text>
<text x="198.21" y="1271.42" font-size="26.16" font-weight="700" fill="#fff" textLength="40.72" lengthAdjust="spacingAndGlyphs" stroke="#fff" stroke-width="0.5">105</text>
<text x="356.31" y="1271.42" font-size="26.16" font-weight="700" fill="#fff" textLength="42.87" lengthAdjust="spacingAndGlyphs" stroke="#fff" stroke-width="0.5">XXL</text>
<text x="435.31" y="1271.42" font-size="26.16" font-weight="700" fill="#fff" textLength="42.87" lengthAdjust="spacingAndGlyphs" stroke="#fff" stroke-width="0.5">XXL</text>
<text x="514.81" y="1271.42" font-size="26.16" font-weight="700" fill="#fff" textLength="42.87" lengthAdjust="spacingAndGlyphs" stroke="#fff" stroke-width="0.5">XXL</text>
<text x="594.31" y="1271.42" font-size="26.16" font-weight="700" fill="#fff" textLength="42.87" lengthAdjust="spacingAndGlyphs" stroke="#fff" stroke-width="0.5">XXL</text>
<text x="127.34" y="1320.47" font-size="26.16" font-weight="700" fill="#fff" textLength="26.70" lengthAdjust="spacingAndGlyphs" stroke="#fff" stroke-width="0.5">48</text>
<text x="198.20" y="1320.47" font-size="26.16" font-weight="700" fill="#fff" textLength="41.06" lengthAdjust="spacingAndGlyphs" stroke="#fff" stroke-width="0.5">110</text>
<text x="356.31" y="1320.47" font-size="26.16" font-weight="700" fill="#fff" textLength="42.87" lengthAdjust="spacingAndGlyphs" stroke="#fff" stroke-width="0.5">XXL</text>
<text x="435.31" y="1320.47" font-size="26.16" font-weight="700" fill="#fff" textLength="42.87" lengthAdjust="spacingAndGlyphs" stroke="#fff" stroke-width="0.5">XXL</text>
<text x="514.81" y="1320.47" font-size="26.16" font-weight="700" fill="#fff" textLength="42.87" lengthAdjust="spacingAndGlyphs" stroke="#fff" stroke-width="0.5">XXL</text>
<g transform="translate(93.3,1254.4) rotate(-90)"><text x="-1.97" y="0.00" font-size="27.62" font-weight="400" fill="#6f7276" textLength="365.16" lengthAdjust="spacingAndGlyphs" stroke="#6f7276" stroke-width="1.0">UNDERBUST MEASUREMENT</text></g>

<g fill="none" stroke="#1d78ad" stroke-width="2.5">
<ellipse cx="528.7" cy="750.7" rx="44.3" ry="22.7"/>
<ellipse cx="908.2" cy="824.1" rx="44.2" ry="23"/>
</g>
<ellipse cx="298.7" cy="886" rx="25" ry="19.8" fill="none" stroke="#1b6e95" stroke-width="2.6"/>
<g fill="none" stroke="#1f8cc6" stroke-width="2.8">
<ellipse cx="299.7" cy="1026.3" rx="24.3" ry="21.5"/>
<ellipse cx="218" cy="1026.7" rx="24" ry="20.5"/>
</g>
<path d="M296.9 907 L300.5 907 L299.2 920 L298.2 920 Z" fill="#1f88c0"/>
<path d="M297.3 932 L300.1 932 L299.9 949 L297.5 949 Z" fill="#1f8cc6"/>
<path d="M297.2 957 L300.2 957 L300.2 996 L297.2 996 Z" fill="#1f8cc6"/>
<path d="M292.5 994 L298.7 1004.5 L304.9 994 Z" fill="#1f8cc6"/>
<path d="M242 1025 L252 1027 L252 1029.5 L242 1031 Z" fill="#1f8cc6"/>
<path d="M262 1026.8 L268 1026.8 L268 1022 L276 1028 L268 1034 L268 1029.2 L262 1029.2 Z" fill="#1f8cc6"/>
<rect x="789" y="822.5" width="44" height="5" fill="#1c86c3"/>
<path d="M826 817.5 L848 825 L826 832.5 L831 825 Z" fill="#1c86c3"/>

</svg>
</body></html>
